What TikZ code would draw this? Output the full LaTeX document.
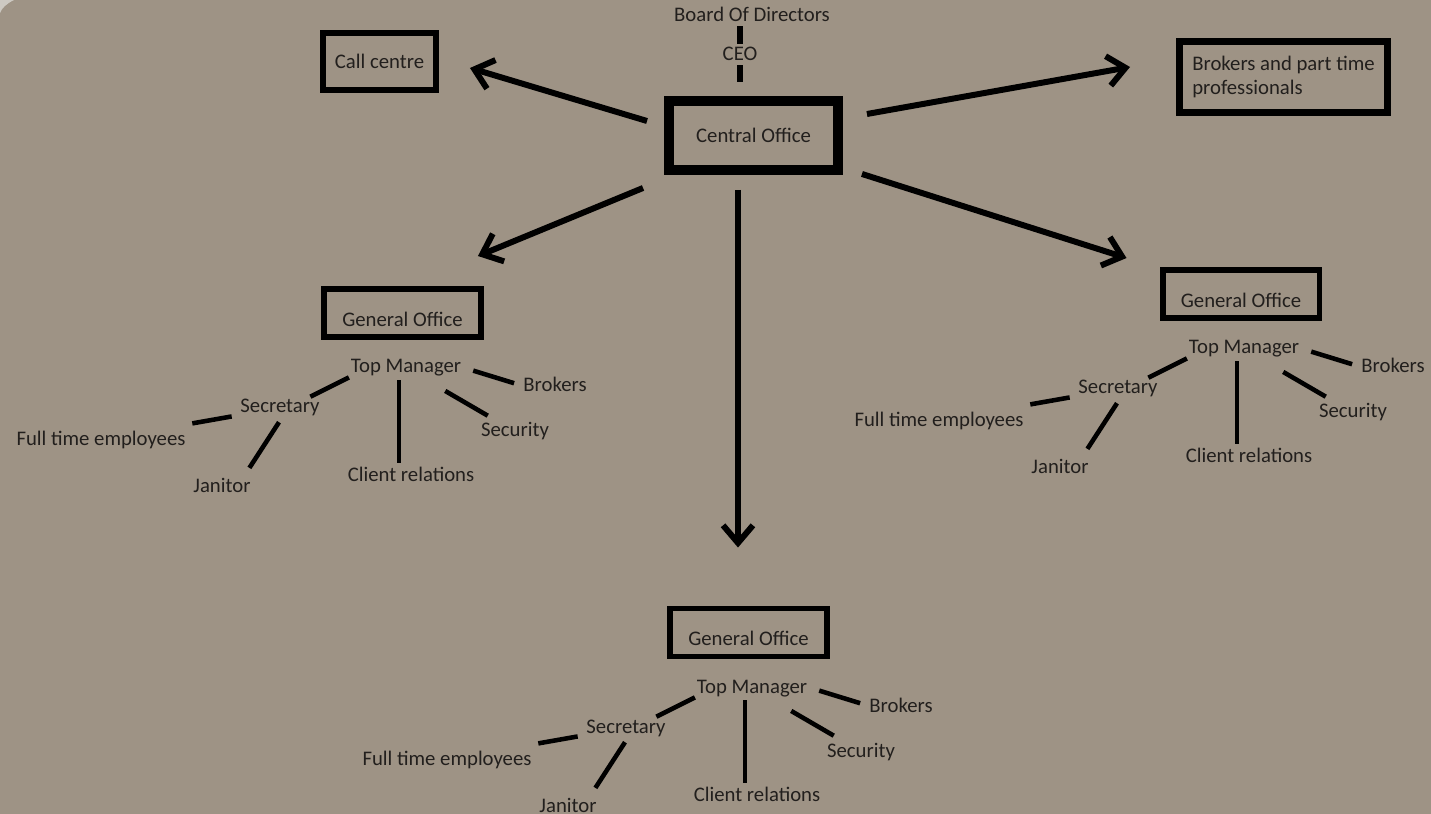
\documentclass[tikz,border=0pt]{standalone}
\usepackage{fontspec}
\setmainfont{Carlito}
\usepackage{tikz}
\usetikzlibrary{arrows.meta,calc,positioning}
\definecolor{wall}{RGB}{158,147,133}
\definecolor{corner}{RGB}{205,201,194}
\definecolor{ink}{RGB}{34,31,29}

\begin{document}
\begin{tikzpicture}[x=0.02cm,y=-0.02cm,
  font=\fontsize{11.8}{14.2}\selectfont,text=ink,
  txt/.style={anchor=base,inner sep=2pt},
  box/.style={draw=black,line width=3.4pt,inner sep=0pt},
  office/.style={box,minimum width=3.14cm,minimum height=0.96cm,text height=15pt,text depth=0pt},
  link/.style={line width=2.6pt},
  arr/.style={line width=3.4pt,-{Straight Barb[length=10pt,width=17pt]}}]
\fill[wall] (0,0) rectangle (1431,814);
\fill[corner] (0,0) -- (14,0) .. controls (6,4) and (2,8) .. (0,13) -- cycle;
\useasboundingbox (0,0) rectangle (1431,814);

\node[txt] (board) at (752,22) {Board Of Directors};
\node[txt] (ceo) at (740,61) {CEO};
\node[box,line width=5.67pt,minimum width=3.38cm,minimum height=1.38cm] (central) at (753.5,135.5) {Central Office};
\node[box,minimum width=2.26cm,minimum height=1.14cm] (call) at (379.5,61.5) {Call centre};
\node[box,line width=4pt,minimum width=4.16cm,minimum height=1.42cm,align=left] (part) at (1283.5,77) {Brokers and part time\\professionals};
\node[office] (goa) at (402.5,313) {General Office};
\node[office] (gob) at (1241,294) {General Office};
\node[office] (goc) at (748.5,632.5) {General Office};

% board - ceo - central
\draw[link,line width=3.4pt] (ceo.north) -- (ceo.north |- board.south);
\draw[link,line width=3.4pt] (ceo.south) -- ($(ceo.south |- central.north)+(0,-14)$);

\draw[arr] ($(central.west)+(-17,-14.5)$) -- ($(call.east)+(31,6.5)$);
\draw[arr] ($(central.east)+(24,-21.5)$) -- ($(part.west)+(-46,-10)$);
\draw[arr] ($(central.south west)+(-21,13)$) -- ($(goa.north east)+(-6,-30)$);
\draw[arr] ($(central.south)+(-15.5,15)$) -- ($(goc.north)+(-10.5,-58)$);
\draw[arr] ($(central.south east)+(19,-1)$) -- ($(gob.north west)+(-33,-9)$);

% staff under each general office
\foreach \g/\x/\y in {a/406/373,b/1244/354,c/752/693}{
  \node[txt] (tm\g) at (\x,\y) {Top Manager};
  \node[txt] (bro\g) at (\x+149,\y+19) {Brokers};
  \node[txt] (secu\g) at (\x+109,\y+64) {Security};
  \node[txt] (cli\g) at (\x+5,\y+108) {Client relations};
  \node[txt] (secr\g) at (\x-126,\y+40) {Secretary};
  \node[txt] (full\g) at (\x-305,\y+72) {Full time employees};
  \node[txt] (jan\g) at (\x-184,\y+119) {Janitor};
  \draw[link] ($(tm\g.east)!0.15!(bro\g.west)$) -- ($(tm\g.east)!0.9!(bro\g.west)$);
  \draw[link] ($(tm\g)!0.36!(secu\g)$) -- ($(tm\g)!0.75!(secu\g)$);
  \draw[link] ($(tm\g.south)+(-7,0)$) -- ($(tm\g.south |- cli\g.north)+(-7,0)$);
  \draw[link] ($(tm\g.south west)+(2,-3)$) -- ($(secr\g.north east)+(-13,1)$);
  \draw[link] ($(secr\g)!0.27!(full\g)$) -- ($(secr\g)!0.49!(full\g)$);
  \draw[link] ($(secr\g.south)+(-1,2)$) -- ($(jan\g.north east)+(-5,-6)$);
}
\end{tikzpicture}
\end{document}
